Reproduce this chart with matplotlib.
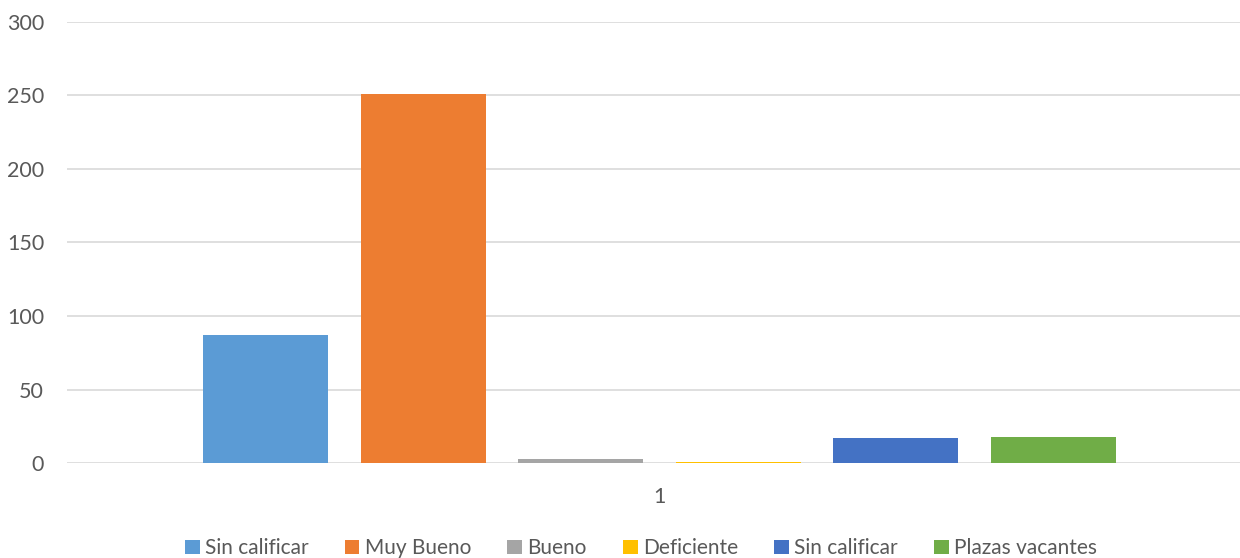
import matplotlib
matplotlib.use("Agg")
import matplotlib.pyplot as plt
from matplotlib.patches import Patch

plt.rcParams['font.family'] = ['Lato', 'DejaVu Sans']

categories = ["1"]
series_names = ["Sin calificar", "Muy Bueno", "Bueno", "Deficiente", "Sin calificar", "Plazas vacantes"]
series_values = [87, 251, 3, 1, 17, 18]
colors = ["#5B9BD5", "#ED7D31", "#A5A5A5", "#FFC000", "#4472C4", "#70AD47"]
yticks = [0, 50, 100, 150, 200, 250, 300]

fig = plt.figure(figsize=(12.4, 5.58), dpi=100)
ax = fig.add_axes([67/1240, (558-463)/558, 1173/1240, 441/558])

step = 157.5/1170
width = 125/1170
n = len(series_values)
for i, (name, v, c) in enumerate(zip(series_names, series_values, colors)):
    ax.bar((i - (n-1)/2) * step, v, width=width, color=c, label=name, zorder=3)

ax.set_xlim(-(659.5-67)/1170, (1240-659.5)/1170)
ax.set_ylim(0, 300)
ax.set_yticks(yticks)
ax.set_xticks([0])
ax.set_xticklabels(categories)
ax.yaxis.grid(True, color="#D9D9D9", linewidth=1.2, zorder=0)
for s in ax.spines.values():
    s.set_visible(False)
ax.tick_params(axis='both', length=0, colors="#595959", labelsize=15.5)
ax.tick_params(axis='y', pad=16.5)
ax.tick_params(axis='x', pad=17)

handles = [Patch(facecolor=c, edgecolor='none') for c in colors]
leg = fig.legend(handles, series_names, loc='lower center', bbox_to_anchor=(0.517, -0.034),
                 ncol=6, frameon=False, fontsize=15, handlelength=0.7, handleheight=0.7,
                 handletextpad=0.25, columnspacing=1.75, labelcolor="#595959")

fig.savefig("out.png", dpi=100)
